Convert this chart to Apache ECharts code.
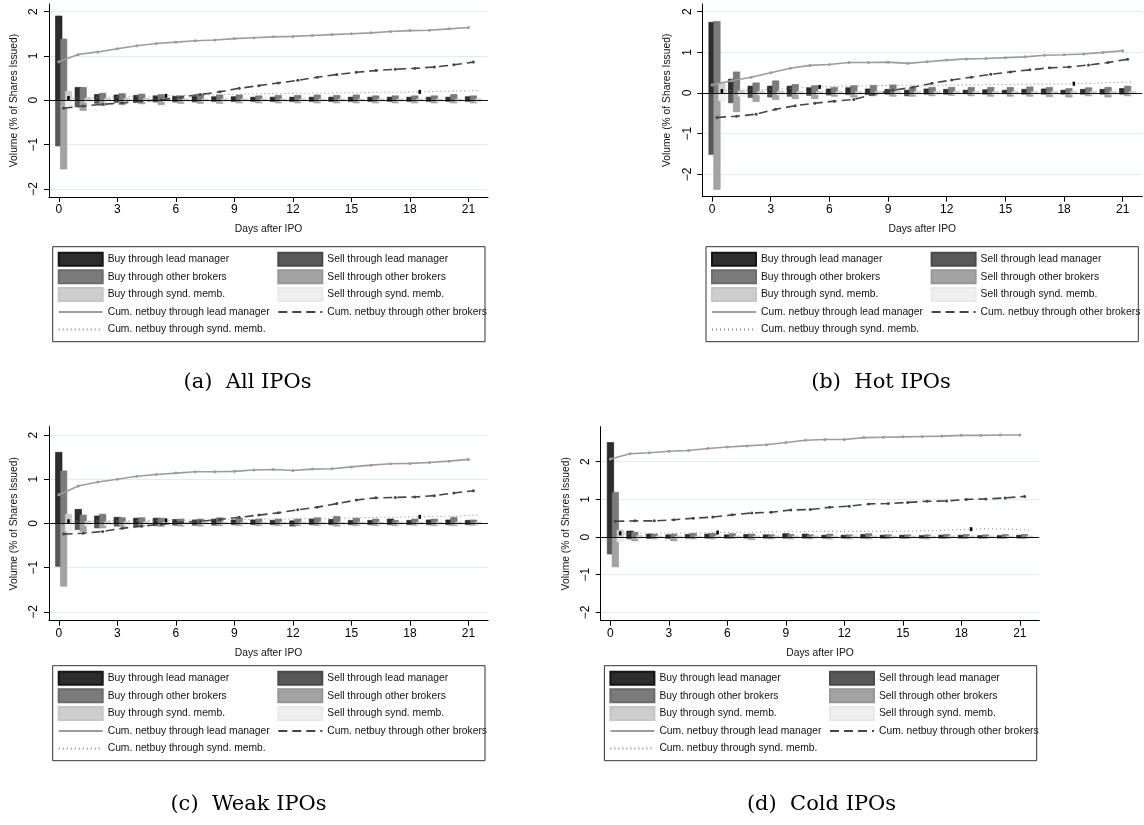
<!DOCTYPE html>
<html><head><meta charset="utf-8">
<script src="https://cdn.jsdelivr.net/npm/echarts@6/dist/echarts.min.js"></script>
<style>html,body{margin:0;padding:0;background:#fff}#c{width:1144px;height:825px}</style>
</head><body><div id="c"></div>
<script>
// ---------- shared categories / ticks ----------
const days = [0,1,2,3,4,5,6,7,8,9,10,11,12,13,14,15,16,17,18,19,20,21];
const xTicks = [0,3,6,9,12,15,18,21];
const yTicks = [-2,-1,0,1,2];
const xTitle = 'Days after IPO';
const yTitle = 'Volume (% of Shares Issued)';
const seriesNames = [
  'Buy through lead manager','Sell through lead manager',
  'Buy through other brokers','Sell through other brokers',
  'Buy through synd. memb.','Sell through synd. memb.',
  'Cum. netbuy through lead manager','Cum. netbuy through other brokers',
  'Cum. netbuy through synd. memb.'
];
const captions = ['(a)  All IPOs','(b)  Hot IPOs','(c)  Weak IPOs','(d)  Cold IPOs'];

// ---------- (a) All IPOs ----------
const allBuyLead   = [1.90,0.29,0.13,0.12,0.11,0.10,0.09,0.09,0.08,0.08,0.07,0.07,0.07,0.07,0.07,0.07,0.07,0.07,0.07,0.07,0.07,0.08];
const allSellLead  = [-1.03,-0.15,-0.07,-0.05,-0.05,-0.04,-0.04,-0.04,-0.03,-0.03,-0.03,-0.03,-0.03,-0.03,-0.03,-0.03,-0.03,-0.03,-0.03,-0.03,-0.03,-0.03];
const allBuyOther  = [1.38,0.29,0.16,0.15,0.14,0.13,0.10,0.14,0.12,0.12,0.10,0.11,0.11,0.12,0.11,0.12,0.10,0.10,0.10,0.10,0.13,0.10];
const allSellOther = [-1.55,-0.23,-0.12,-0.10,-0.08,-0.10,-0.07,-0.07,-0.07,-0.06,-0.06,-0.06,-0.06,-0.06,-0.06,-0.06,-0.06,-0.06,-0.06,-0.06,-0.06,-0.06];
const allBuySynd   = [0.20,0.05,0.04,0.04,0.04,0.04,0.03,0.03,0.03,0.03,0.03,0.03,0.03,0.03,0.03,0.03,0.03,0.03,0.03,0.03,0.03,0.03];
const allSellSynd  = [-0.15,-0.05,-0.04,-0.04,-0.03,-0.03,-0.03,-0.03,-0.03,-0.03,-0.03,-0.03,-0.03,-0.03,-0.03,-0.03,-0.03,-0.03,-0.03,-0.03,-0.03,-0.03];
const allCumLead   = [0.87,1.03,1.09,1.16,1.23,1.28,1.31,1.34,1.36,1.39,1.41,1.43,1.44,1.46,1.48,1.50,1.52,1.55,1.57,1.58,1.61,1.64];
const allCumOther  = [-0.18,-0.13,-0.09,-0.06,-0.02,0.01,0.07,0.13,0.19,0.27,0.33,0.39,0.45,0.52,0.58,0.63,0.67,0.70,0.72,0.75,0.80,0.86];
const allCumSynd   = [0.05,0.06,0.07,0.08,0.09,0.10,0.11,0.12,0.13,0.14,0.15,0.15,0.16,0.16,0.17,0.17,0.18,0.18,0.19,0.20,0.21,0.22];

// ---------- (b) Hot IPOs ----------
const hotBuyLead   = [1.74,0.34,0.17,0.17,0.17,0.13,0.10,0.13,0.10,0.09,0.07,0.10,0.09,0.07,0.08,0.07,0.09,0.10,0.07,0.09,0.09,0.11];
const hotSellLead  = [-1.51,-0.24,-0.11,-0.10,-0.08,-0.06,-0.05,-0.04,-0.04,-0.03,-0.07,-0.03,-0.03,-0.02,-0.03,-0.02,-0.03,-0.03,-0.03,-0.03,-0.03,-0.03];
const hotBuyOther  = [1.76,0.52,0.25,0.30,0.21,0.18,0.14,0.18,0.19,0.20,0.14,0.14,0.14,0.14,0.14,0.14,0.15,0.14,0.11,0.13,0.14,0.17];
const hotSellOther = [-2.37,-0.46,-0.21,-0.16,-0.14,-0.14,-0.08,-0.10,-0.07,-0.08,-0.08,-0.07,-0.06,-0.07,-0.08,-0.08,-0.08,-0.09,-0.10,-0.07,-0.10,-0.07];
const hotBuySynd   = [0.24,0.06,0.05,0.05,0.04,0.04,0.04,0.04,0.04,0.04,0.04,0.04,0.04,0.04,0.04,0.04,0.04,0.04,0.04,0.04,0.04,0.04];
const hotSellSynd  = [-0.19,-0.08,-0.05,-0.05,-0.04,-0.04,-0.04,-0.04,-0.04,-0.04,-0.04,-0.04,-0.04,-0.04,-0.04,-0.04,-0.04,-0.04,-0.04,-0.04,-0.04,-0.04];
const hotCumLead   = [0.20,0.30,0.39,0.50,0.61,0.68,0.70,0.75,0.75,0.76,0.73,0.77,0.81,0.84,0.85,0.87,0.89,0.93,0.94,0.96,1.00,1.04];
const hotCumOther  = [-0.60,-0.57,-0.52,-0.40,-0.31,-0.25,-0.20,-0.16,-0.03,0.07,0.14,0.24,0.32,0.39,0.46,0.52,0.57,0.62,0.64,0.69,0.75,0.83];
const hotCumSynd   = [0.05,0.07,0.08,0.10,0.13,0.15,0.17,0.17,0.18,0.19,0.19,0.19,0.20,0.20,0.21,0.21,0.22,0.22,0.23,0.24,0.26,0.27];

// ---------- (c) Weak IPOs ----------
const weakBuyLead   = [1.61,0.32,0.17,0.14,0.12,0.12,0.09,0.08,0.10,0.08,0.08,0.07,0.06,0.10,0.09,0.07,0.07,0.10,0.07,0.08,0.08,0.07];
const weakSellLead  = [-0.97,-0.14,-0.10,-0.06,-0.06,-0.05,-0.04,-0.04,-0.04,-0.03,-0.03,-0.03,-0.06,-0.03,-0.03,-0.03,-0.03,-0.03,-0.03,-0.03,-0.03,-0.03];
const weakBuyOther  = [1.19,0.19,0.21,0.13,0.13,0.12,0.10,0.10,0.13,0.12,0.10,0.10,0.10,0.13,0.16,0.12,0.10,0.07,0.10,0.10,0.14,0.08];
const weakSellOther = [-1.42,-0.18,-0.10,-0.07,-0.06,-0.07,-0.06,-0.06,-0.05,-0.05,-0.05,-0.05,-0.05,-0.05,-0.06,-0.05,-0.05,-0.05,-0.04,-0.05,-0.05,-0.04];
const weakBuySynd   = [0.21,0.05,0.04,0.04,0.04,0.03,0.03,0.03,0.03,0.03,0.03,0.03,0.03,0.03,0.03,0.03,0.03,0.03,0.03,0.03,0.03,0.03];
const weakSellSynd  = [-0.18,-0.05,-0.04,-0.04,-0.03,-0.03,-0.03,-0.03,-0.03,-0.03,-0.03,-0.03,-0.03,-0.03,-0.03,-0.03,-0.03,-0.03,-0.03,-0.03,-0.03,-0.03];
const weakCumLead   = [0.65,0.85,0.94,1.00,1.07,1.11,1.14,1.17,1.17,1.18,1.21,1.22,1.20,1.23,1.24,1.28,1.32,1.35,1.36,1.38,1.41,1.45];
const weakCumOther  = [-0.24,-0.22,-0.18,-0.11,-0.06,-0.02,0.02,0.05,0.09,0.14,0.19,0.24,0.31,0.37,0.45,0.53,0.58,0.59,0.60,0.63,0.69,0.74];
const weakCumSynd   = [0.05,0.05,0.06,0.06,0.07,0.07,0.08,0.08,0.09,0.09,0.10,0.10,0.11,0.11,0.12,0.13,0.14,0.14,0.15,0.16,0.17,0.19];

// ---------- (d) Cold IPOs ----------
const coldBuyLead   = [2.51,0.16,0.08,0.06,0.07,0.08,0.06,0.07,0.06,0.09,0.08,0.05,0.05,0.07,0.05,0.05,0.04,0.05,0.05,0.04,0.04,0.05];
const coldSellLead  = [-0.45,-0.05,-0.04,-0.04,-0.03,-0.03,-0.03,-0.03,-0.03,-0.03,-0.03,-0.03,-0.03,-0.03,-0.03,-0.03,-0.03,-0.03,-0.03,-0.03,-0.03,-0.03];
const coldBuyOther  = [1.19,0.13,0.08,0.08,0.10,0.10,0.09,0.08,0.06,0.07,0.06,0.08,0.06,0.09,0.06,0.06,0.06,0.07,0.07,0.06,0.07,0.07];
const coldSellOther = [-0.79,-0.10,-0.05,-0.10,-0.05,-0.05,-0.04,-0.07,-0.05,-0.05,-0.05,-0.05,-0.05,-0.05,-0.04,-0.04,-0.05,-0.04,-0.04,-0.04,-0.04,-0.04];
const coldBuySynd   = [0.19,0.04,0.03,0.03,0.03,0.03,0.03,0.03,0.03,0.03,0.03,0.03,0.03,0.03,0.03,0.03,0.03,0.03,0.03,0.03,0.03,0.03];
const coldSellSynd  = [-0.12,-0.04,-0.03,-0.03,-0.03,-0.03,-0.03,-0.03,-0.03,-0.03,-0.03,-0.03,-0.03,-0.03,-0.03,-0.03,-0.03,-0.03,-0.03,-0.03,-0.03,-0.03];
const coldCumLead   = [2.07,2.21,2.24,2.28,2.30,2.35,2.39,2.42,2.45,2.51,2.57,2.59,2.59,2.64,2.65,2.66,2.67,2.68,2.70,2.70,2.71,2.71];
const coldCumOther  = [0.42,0.43,0.43,0.46,0.50,0.53,0.59,0.64,0.66,0.72,0.73,0.79,0.82,0.88,0.89,0.92,0.95,0.96,1.00,1.01,1.04,1.08];
const coldCumSynd   = [0.10,0.10,0.10,0.11,0.11,0.12,0.13,0.13,0.14,0.14,0.15,0.15,0.15,0.15,0.15,0.16,0.17,0.19,0.21,0.22,0.21,0.19];

const panels = [
  {bars:[allBuyLead,allSellLead,allBuyOther,allSellOther,allBuySynd,allSellSynd], lines:[allCumLead,allCumOther,allCumSynd]},
  {bars:[hotBuyLead,hotSellLead,hotBuyOther,hotSellOther,hotBuySynd,hotSellSynd], lines:[hotCumLead,hotCumOther,hotCumSynd]},
  {bars:[weakBuyLead,weakSellLead,weakBuyOther,weakSellOther,weakBuySynd,weakSellSynd], lines:[weakCumLead,weakCumOther,weakCumSynd]},
  {bars:[coldBuyLead,coldSellLead,coldBuyOther,coldSellOther,coldBuySynd,coldSellSynd], lines:[coldCumLead,coldCumOther,coldCumSynd]}
];

// ---------- layout & style (not data) ----------
const layouts = [
  {grid:{left:49, top:4, width:439, height:193},       yMin:-2.18, yMax:2.17, legend:{left:52.7, top:246.7}, cap:[247.5,382.6]},
  {grid:{left:702.3, top:4, width:440, height:192.7},  yMin:-2.55, yMax:2.19, legend:{left:706, top:246.7},  cap:[881,382.6]},
  {grid:{left:49, top:426.7, width:439, height:194},   yMin:-2.2,  yMax:2.19, legend:{left:52.7, top:665.7}, cap:[248.5,805]},
  {grid:{left:600.7, top:426.7, width:438.6, height:194}, yMin:-2.22, yMax:2.93, legend:{left:604.4, top:665.7}, cap:[821.5,805]}
];
const LEG_BOX_W = 432.3, LEG_BOX_H = 95;
const SANS = '"Liberation Sans", Arial, sans-serif';
const barColors = ['#2d2d2d','#595959','#7b7b7b','#a3a3a3','#cdcdcd','#efefef'];
const barBorders = ['#151515','#4a4a4a','#6c6c6c','#969696','#c4c4c4','#e8e8e8'];
const barOffsets = [0,0,0.25,0.25,0.5,0.5];
const lineOffsets = [0,0.25,0.5];
const BAR_W = 0.33;
const syndMarkIdx = [0,5,18];

function renderBar(params, api) {
  const x = api.value(0), v = api.value(1);
  const a = api.coord([x - BAR_W/2, 0]);
  const b = api.coord([x + BAR_W/2, v]);
  return {
    type:'rect',
    shape:{x:a[0], y:Math.min(a[1],b[1]), width:b[0]-a[0], height:Math.abs(b[1]-a[1])},
    style: api.style()
  };
}
const minusFmt = v => String(v).replace('-', '\u2212');

const grids=[], xAxes=[], yAxes=[], series=[], legends=[], graphics=[];
panels.forEach((p, pi) => {
  const L = layouts[pi];
  grids.push(L.grid);
  xAxes.push({
    type:'value', gridIndex:pi, min:-0.5, max:22,
    name:xTitle, nameLocation:'middle', nameGap:27,
    nameTextStyle:{fontSize:10.3, fontFamily:SANS, color:'#111'},
    axisLine:{show:true, onZero:false, lineStyle:{color:'#000', width:1}},
    axisTick:{show:true, customValues:xTicks, length:5, lineStyle:{color:'#000'}},
    axisLabel:{customValues:xTicks, fontSize:12, margin:7, color:'#000', fontFamily:SANS},
    splitLine:{show:false}
  });
  yAxes.push({
    type:'value', gridIndex:pi, min:L.yMin, max:L.yMax,
    name:yTitle, nameLocation:'middle', nameGap:30,
    nameTextStyle:{fontSize:10.3, fontFamily:SANS, color:'#111'},
    axisLine:{show:true, onZero:false, lineStyle:{color:'#000', width:1}},
    axisTick:{show:true, customValues:yTicks, length:5, lineStyle:{color:'#000'}},
    axisLabel:{customValues:yTicks, rotate:90, margin:9, fontSize:12, color:'#000', fontFamily:SANS, formatter:minusFmt},
    splitLine:{show:true, lineStyle:{color:'#e1ecef', width:1}}
  });
  p.bars.forEach((arr, si) => {
    series.push({
      type:'custom', name:seriesNames[si], xAxisIndex:pi, yAxisIndex:pi,
      renderItem:renderBar, z:2,
      itemStyle:{color:barColors[si], borderColor:barBorders[si], borderWidth:0.6},
      data: days.map((d,i)=>[d+barOffsets[si], arr[i]])
    });
  });
  const lineStyles = [
    {color:'#9c9c9c', width:1.6, type:'solid'},
    {color:'#454545', width:1.6, type:[9,5]},
    {color:'#8a8a8a', width:1.1, type:[1,3]}
  ];
  p.lines.forEach((arr, li) => {
    const s = {
      type:'line', name:seriesNames[6+li], xAxisIndex:pi, yAxisIndex:pi, z:3,
      lineStyle:lineStyles[li], itemStyle:{color:lineStyles[li].color},
      symbol:'circle', symbolSize:3, showSymbol:true,
      data: days.map((d,i)=>[d+lineOffsets[li], arr[i]])
    };
    if (li === 2) {
      s.symbol = 'none';
      s.data = days.map((d,i)=> syndMarkIdx.includes(i)
        ? {value:[d+lineOffsets[li], arr[i]], symbol:'rect', symbolSize:[2.5,4], itemStyle:{color:'#000'}}
        : {value:[d+lineOffsets[li], arr[i]]});
      s.markLine = {silent:true, symbol:'none', label:{show:false}, animation:false,
        lineStyle:{color:'#111', width:1, type:'solid'}, data:[{yAxis:0}]};
    }
    series.push(s);
  });
  legends.push({
    left:L.legend.left, top:L.legend.top + 1, width:445,
    orient:'horizontal', padding:[4,6,6,5],
    itemWidth:44, itemHeight:13, itemGap:2.6,
    borderWidth:0, selectedMode:false,
    textStyle:{fontSize:10.3, fontFamily:SANS, color:'#111', lineHeight:15},
    data: seriesNames.map((n,i)=>{
      const o = {name:n, textStyle:{width: (i%2===0) ? 167 : 143}};
      if (i < 6) o.icon = 'rect'; else o.itemStyle = {opacity:0};
      return o;
    })
  });
  graphics.push({
    type:'rect', silent:true, z:10,
    shape:{x:L.legend.left, y:L.legend.top, width:LEG_BOX_W, height:LEG_BOX_H},
    style:{fill:'none', stroke:'#333', lineWidth:1}
  });
  graphics.push({
    type:'text', x:L.cap[0], y:L.cap[1],
    style:{text:captions[pi], font:'21px "DejaVu Serif", serif', fill:'#000',
      align:'center', verticalAlign:'middle', textAlign:'center', textVerticalAlign:'middle'}
  });
});

const chart = echarts.init(document.getElementById('c'), null, {renderer:'canvas'});
chart.setOption({
  animation:false,
  backgroundColor:'#fff',
  grid:grids, xAxis:xAxes, yAxis:yAxes, series:series, legend:legends,
  graphic:graphics
});
</script></body></html>
